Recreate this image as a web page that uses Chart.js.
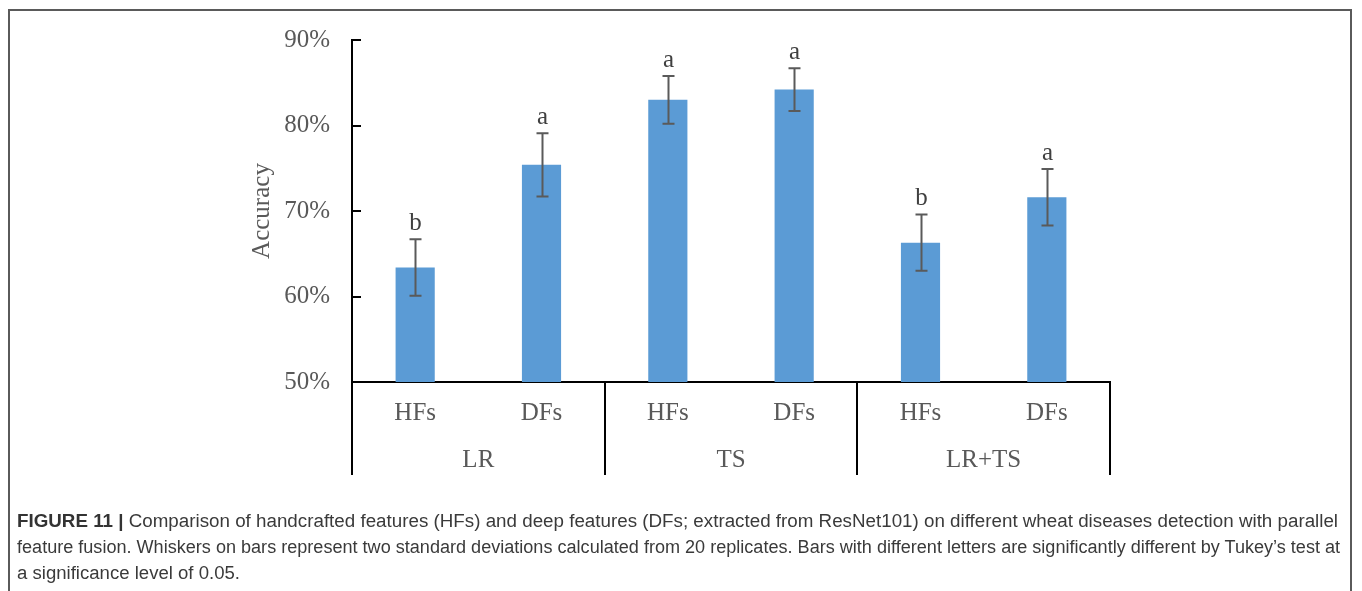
<!DOCTYPE html>
<html>
<head>
<meta charset="utf-8">
<script src="https://cdn.jsdelivr.net/npm/chart.js@4.4.1/dist/chart.umd.min.js"></script>
<style>
  html, body { margin: 0; padding: 0; background: #fff; }
  body { width: 1362px; height: 591px; position: relative; overflow: hidden; }
  #wrap { position: absolute; left: 0; top: 0; width: 1362px; height: 591px; }
  #frame { position: absolute; left: 8px; top: 9px; width: 1344px; height: 640px;
           border: 2px solid #5a5a5a; box-sizing: border-box; }
  #caption { position: absolute; left: 17px; top: 508px; font-family: "Liberation Sans", Arial, sans-serif;
             font-size: 18px; line-height: 26px; color: #3a3a3a; white-space: nowrap; }
  #caption .ln { display: block; width: max-content; transform-origin: 0 50%; }
  #caption b { font-weight: bold; color: #333; }
</style>
</head>
<body>
<div id="frame"></div>
<div id="wrap"><canvas id="chart" width="1362" height="591"></canvas></div>
<div id="caption">
  <span class="ln" data-w="1321"><b>FIGURE 11 |</b> Comparison of handcrafted features (HFs) and deep features (DFs; extracted from ResNet101) on different wheat diseases detection with parallel</span>
  <span class="ln" data-w="1323">feature fusion. Whiskers on bars represent two standard deviations calculated from 20 replicates. Bars with different letters are significantly different by Tukey’s test at</span>
  <span class="ln" data-w="223">a significance level of 0.05.</span>
</div>
<script>
// Feature types within each fusion group
const categories = ['HFs', 'DFs', 'HFs', 'DFs', 'HFs', 'DFs'];
// Fusion groups, two bars each
const groups = ['LR', 'TS', 'LR+TS'];
// Mean accuracy (%)
const accuracy = [63.4, 75.4, 83.0, 84.2, 66.3, 71.6];
// Half-length of each whisker (%)
const whisker = [3.3, 3.7, 2.8, 2.5, 3.3, 3.3];
// Tukey significance letters
const letters = ['b', 'a', 'a', 'a', 'b', 'a'];
// Y-axis ticks (%)
const yTicks = [50, 60, 70, 80, 90];

const SERIF = '"Liberation Serif", "Times New Roman", serif';
const GREY = '#595959';

// Inward tick marks, whiskers, letters and group separators
const overlay = {
  id: 'overlay',
  afterDatasetsDraw(chart) {
    const ctx = chart.ctx;
    const x = chart.scales.x, y = chart.scales.y, x2 = chart.scales.x2;
    const area = chart.chartArea;
    ctx.save();
    // y ticks pointing into the plot
    ctx.strokeStyle = '#000';
    ctx.lineWidth = 2;
    yTicks.forEach(v => {
      const py = Math.round(y.getPixelForValue(v));
      ctx.beginPath();
      ctx.moveTo(area.left, py);
      ctx.lineTo(area.left + 9, py);
      ctx.stroke();
    });
    // whiskers
    ctx.strokeStyle = '#5a5a5a';
    ctx.lineWidth = 2;
    accuracy.forEach((v, i) => {
      const px = Math.round(x.getPixelForValue(i)) + 0.5;
      const top = y.getPixelForValue(v + whisker[i]);
      const bot = y.getPixelForValue(v - whisker[i]);
      ctx.beginPath();
      ctx.moveTo(px, top); ctx.lineTo(px, bot);
      ctx.moveTo(px - 6, top); ctx.lineTo(px + 6, top);
      ctx.moveTo(px - 6, bot); ctx.lineTo(px + 6, bot);
      ctx.stroke();
      // letter above the whisker
      ctx.fillStyle = '#404040';
      ctx.font = '25px ' + SERIF;
      ctx.textAlign = 'center';
      ctx.textBaseline = 'alphabetic';
      ctx.fillText(letters[i], px, top - 9);
    });
    // group separators below the axis
    ctx.strokeStyle = '#000';
    ctx.lineWidth = 2;
    const step = (x.getPixelForValue(1) - x.getPixelForValue(0));
    const bounds = [];
    for (let g = 0; g <= groups.length; g++) {
      bounds.push(x.getPixelForValue(g * 2) - step / 2);
    }
    bounds.forEach(bx => {
      const px = Math.round(bx);
      ctx.beginPath();
      ctx.moveTo(px, area.bottom);
      ctx.lineTo(px, x2.bottom);
      ctx.stroke();
    });
    ctx.restore();
  }
};

new Chart(document.getElementById('chart'), {
  type: 'bar',
  data: {
    labels: categories,
    datasets: [{
      data: accuracy,
      backgroundColor: '#5b9bd5',
      borderWidth: 0,
      barPercentage: 0.31,
      categoryPercentage: 1.0
    }]
  },
  options: {
    responsive: false,
    animation: false,
    events: [],
    layout: { padding: { left: 240, right: 252, top: 40, bottom: 116 } },
    plugins: { legend: { display: false }, tooltip: { enabled: false } },
    scales: {
      x: {
        type: 'category',
        position: 'bottom',
        grid: { display: false, drawTicks: false },
        border: { display: true, color: '#000', width: 2 },
        ticks: { color: GREY, font: { family: SERIF, size: 25 }, padding: 16, maxRotation: 0, autoSkip: false },
        afterFit(s) { s.height = 45; }
      },
      x2: {
        type: 'category',
        position: 'bottom',
        labels: groups,
        offset: true,
        grid: { display: false, drawTicks: false },
        border: { display: false },
        ticks: { color: GREY, font: { family: SERIF, size: 25 }, padding: 18, maxRotation: 0, autoSkip: false },
        afterFit(s) { s.height = 48; }
      },
      y: {
        min: 50,
        max: 90,
        grid: { display: false, drawTicks: false },
        border: { display: true, color: '#000', width: 2 },
        afterBuildTicks(s) { s.ticks = yTicks.map(v => ({ value: v })); },
        ticks: {
          color: GREY,
          font: { family: SERIF, size: 25 },
          padding: 22,
          callback: v => v + '%'
        },
        title: {
          display: true,
          text: 'Accuracy',
          color: GREY,
          font: { family: SERIF, size: 25 },
          padding: { top: 7, bottom: 0 }
        },
        afterFit(s) { s.width = 112; }
      }
    }
  },
  plugins: [overlay]
});

// Fit each caption line to its text block width
document.querySelectorAll('#caption .ln').forEach(el => {
  const w = el.getBoundingClientRect().width;
  const target = +el.dataset.w;
  if (w > 20) el.style.transform = 'scaleX(' + (target / w).toFixed(4) + ')';
});
</script>
</body>
</html>
